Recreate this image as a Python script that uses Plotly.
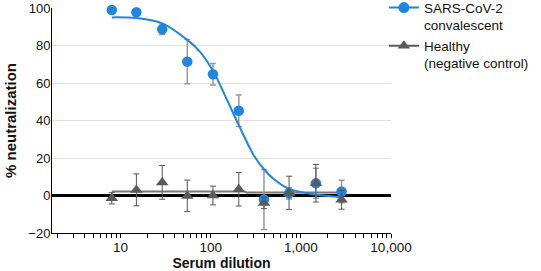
import plotly.graph_objects as go

# ---- data ----
dilution = [8, 15, 29, 55, 106, 205, 390, 740, 1470, 2830]
conv_mean = [98.9, 97.7, 88.7, 71.4, 64.7, 45.2, -2.1, 1.2, 6.5, 2.1]
conv_err = [1.5, 1.5, 2.8, 11.8, 5.7, 8.4, 16.0, 3.0, 8.0, 6.0]
healthy_mean = [-1.5, 3.0, 7.0, -0.2, 0.0, 3.3, -4.0, 1.4, 6.5, -2.3]
healthy_err = [3.0, 8.5, 9.0, 8.4, 5.0, 8.9, 3.0, 8.9, 10.0, 5.0]

# fitted curves
conv_fit_x = [8, 15, 29, 55, 75, 106, 150, 205, 300, 390, 500, 740, 1470, 2830]
conv_fit_y = [95.0, 94.6, 91.8, 83.0, 77.0, 66.5, 51.5, 37.5, 21.5, 14.0, 8.8, 3.5, 0.5, -0.9]
healthy_fit_x = [8, 238, 250, 2830]
healthy_fit_y = [2.1, 2.1, 1.6, 1.6]

y_ticks = [-20, 0, 20, 40, 60, 80, 100]
y_ticktext = ["\u221220", "0", "20", "40", "60", "80", "100"]
x_major = [10, 100, 1000, 10000]
x_major_text = ["10", "100", "1,000", "10,000"]

BLUE = "#1f86e0"
GRAY = "#5a5a5a"
FONT = "Liberation Sans, Arial, sans-serif"

# tick positions for log axis (majors + minors)
x_tickvals, x_ticktext = [], []
for dec in [1, 10, 100, 1000]:
    for m in range(2, 10):
        x_tickvals.append(dec * m)
        x_ticktext.append("")
for v, t in zip(x_major, x_major_text):
    x_tickvals.append(v)
    x_ticktext.append(t)

fig = go.Figure()

fig.add_trace(go.Scatter(
    x=healthy_fit_x, y=healthy_fit_y, mode="lines",
    line=dict(color="#777777", width=2), showlegend=False, hoverinfo="skip"))

fig.add_trace(go.Scatter(
    x=dilution, y=conv_mean, mode="markers",
    marker=dict(color=BLUE, size=10.5, symbol="circle"),
    error_y=dict(type="data", array=conv_err, color="#9a9a9a", thickness=1.5, width=3),
    showlegend=False, cliponaxis=False))

fig.add_trace(go.Scatter(
    x=conv_fit_x, y=conv_fit_y, mode="lines", line_shape="spline",
    line=dict(color=BLUE, width=2), showlegend=False, hoverinfo="skip"))

fig.add_trace(go.Scatter(
    x=dilution, y=healthy_mean, mode="markers",
    marker=dict(color=GRAY, size=11, symbol="triangle-up"),
    error_y=dict(type="data", array=healthy_err, color="#555555", thickness=1, width=3),
    showlegend=False))

# legend entries
fig.add_trace(go.Scatter(
    x=[None], y=[None], mode="lines+markers", name="SARS-CoV-2<br>convalescent",
    line=dict(color=BLUE, width=2), marker=dict(color=BLUE, size=11, symbol="circle")))
fig.add_trace(go.Scatter(
    x=[None], y=[None], mode="lines+markers", name="Healthy<br>(negative control)",
    line=dict(color=GRAY, width=2), marker=dict(color=GRAY, size=11, symbol="triangle-up")))

fig.update_layout(
    width=541, height=271,
    margin=dict(l=52, r=150, t=8, b=38, autoexpand=False),
    paper_bgcolor="white", plot_bgcolor="white",
    font=dict(family=FONT, size=14, color="#111111"),
    legend=dict(x=0.979, xanchor="left", y=1.07, yanchor="top",
                font=dict(size=13.5, color="#111111"), valign="top",
                bgcolor="rgba(0,0,0,0)", tracegroupgap=0),
)

fig.update_xaxes(
    type="log", range=[0.24, 4], automargin=False,
    tickvals=x_tickvals, ticktext=x_ticktext, ticklabelstandoff=-2,
    ticks="outside", ticklen=4, tickwidth=1, tickcolor="black",
    showline=True, linecolor="black", linewidth=1,
    showgrid=False, zeroline=False,
    tickfont=dict(size=13.5, color="#111111"),
    title=dict(text="<b>Serum dilution</b>", font=dict(size=14), standoff=7),
)
fig.update_yaxes(
    range=[-20, 100], automargin=False, ticklabeloverflow="allow",
    tickvals=y_ticks, ticktext=y_ticktext, ticklabelstandoff=-2,
    ticks="", showline=True, linecolor="black", linewidth=1,
    showgrid=True, gridcolor="#e2e2e2", gridwidth=1,
    zeroline=True, zerolinecolor="black", zerolinewidth=2.5,
    tickfont=dict(size=13, color="#111111"),
    title=dict(text="<b>% neutralization</b>", font=dict(size=15), standoff=8),
)

fig.write_html("out.html")
